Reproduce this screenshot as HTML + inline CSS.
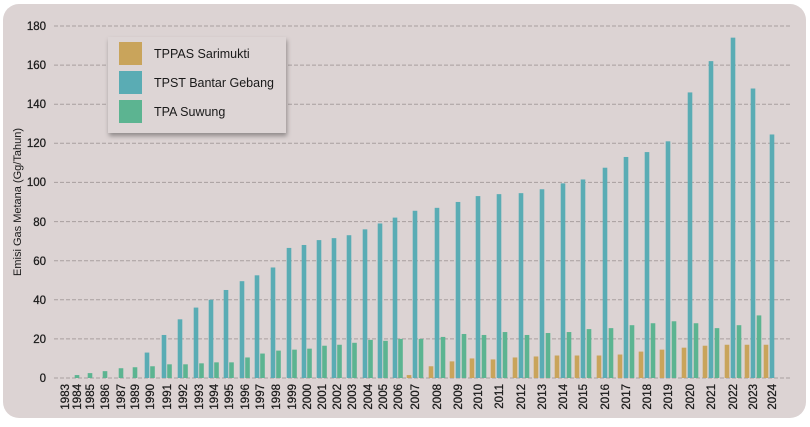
<!DOCTYPE html>
<html><head><meta charset="utf-8"><style>
body{margin:0;background:#fff;width:810px;height:422px;overflow:hidden;font-family:"Liberation Sans",sans-serif}
</style></head><body>
<svg id="s" width="810" height="422" xmlns="http://www.w3.org/2000/svg" font-family="Liberation Sans, sans-serif">
<rect x="3" y="4" width="803" height="414" rx="16" fill="#dcd3d3"/>
<g stroke="#a89f9f" stroke-dasharray="4,2" stroke-width="1">
<line x1="54" x2="792" y1="26" y2="26"/><line x1="54" x2="792" y1="65.1" y2="65.1"/><line x1="54" x2="792" y1="104.2" y2="104.2"/><line x1="54" x2="792" y1="143.3" y2="143.3"/><line x1="54" x2="792" y1="182.4" y2="182.4"/><line x1="54" x2="792" y1="221.6" y2="221.6"/><line x1="54" x2="792" y1="260.7" y2="260.7"/><line x1="54" x2="792" y1="299.8" y2="299.8"/><line x1="54" x2="792" y1="338.9" y2="338.9"/><line x1="54" x2="792" y1="378" y2="378"/>
</g>
<g font-size="11.5" fill="#1a1a1a" text-anchor="end" stroke="#1a1a1a" stroke-width="0.25">
<text x="46" y="30">180</text><text x="46" y="69">160</text><text x="46" y="108">140</text><text x="46" y="147">120</text><text x="46" y="186">100</text><text x="46" y="226">80</text><text x="46" y="265">60</text><text x="46" y="304">40</text><text x="46" y="343">20</text><text x="46" y="382">0</text>
</g>
<text transform="translate(21,202) rotate(-90)" font-size="11" text-anchor="middle" fill="#1a1a1a">Emisi Gas Metana (Gg/Tahun)</text>
<g id="bars"></g>
<g font-size="11.5" fill="#1a1a1a" text-anchor="end" id="lbl" stroke="#1a1a1a" stroke-width="0.25">
<text transform="translate(69,384) rotate(-90)">1983</text>
<text transform="translate(81,384) rotate(-90)">1984</text>
<text transform="translate(94,384) rotate(-90)">1985</text>
<text transform="translate(109,384) rotate(-90)">1986</text>
<text transform="translate(125,384) rotate(-90)">1987</text>
<text transform="translate(139,384) rotate(-90)">1989</text>
<text transform="translate(154,384) rotate(-90)">1990</text>
<text transform="translate(171,384) rotate(-90)">1991</text>
<text transform="translate(187,384) rotate(-90)">1992</text>
<text transform="translate(203,384) rotate(-90)">1993</text>
<text transform="translate(218,384) rotate(-90)">1994</text>
<text transform="translate(233,384) rotate(-90)">1995</text>
<text transform="translate(249,384) rotate(-90)">1996</text>
<text transform="translate(264,384) rotate(-90)">1997</text>
<text transform="translate(280,384) rotate(-90)">1998</text>
<text transform="translate(296,384) rotate(-90)">1999</text>
<text transform="translate(311,384) rotate(-90)">2000</text>
<text transform="translate(326,384) rotate(-90)">2001</text>
<text transform="translate(341,384) rotate(-90)">2002</text>
<text transform="translate(356,384) rotate(-90)">2003</text>
<text transform="translate(372,384) rotate(-90)">2004</text>
<text transform="translate(387,384) rotate(-90)">2005</text>
<text transform="translate(402,384) rotate(-90)">2006</text>
<text transform="translate(419,384) rotate(-90)">2007</text>
<text transform="translate(441,384) rotate(-90)">2008</text>
<text transform="translate(462,384) rotate(-90)">2009</text>
<text transform="translate(482,384) rotate(-90)">2010</text>
<text transform="translate(503,384) rotate(-90)">2011</text>
<text transform="translate(525,384) rotate(-90)">2012</text>
<text transform="translate(546,384) rotate(-90)">2013</text>
<text transform="translate(567,384) rotate(-90)">2014</text>
<text transform="translate(587,384) rotate(-90)">2015</text>
<text transform="translate(609,384) rotate(-90)">2016</text>
<text transform="translate(630,384) rotate(-90)">2017</text>
<text transform="translate(651,384) rotate(-90)">2018</text>
<text transform="translate(672,384) rotate(-90)">2019</text>
<text transform="translate(694,384) rotate(-90)">2020</text>
<text transform="translate(715,384) rotate(-90)">2021</text>
<text transform="translate(737,384) rotate(-90)">2022</text>
<text transform="translate(757,384) rotate(-90)">2023</text>
<text transform="translate(776,384) rotate(-90)">2024</text>
</g>
<defs><filter id="sh" x="-10%" y="-10%" width="130%" height="140%"><feDropShadow dx="1" dy="3" stdDeviation="2.5" flood-color="#000" flood-opacity="0.35"/></filter></defs>
<rect x="108" y="37" width="178" height="96" fill="#ddd5d5" filter="url(#sh)"/>
<rect x="119" y="42" width="23" height="23" fill="#c9a45b"/>
<rect x="119" y="71" width="23" height="23" fill="#5aacb4"/>
<rect x="119" y="100" width="23" height="23" fill="#5cb491"/>
<g font-size="12.5" fill="#1a1a1a"><text x="154" y="58">TPPAS Sarimukti</text><text x="154" y="87">TPST Bantar Gebang</text><text x="154" y="116">TPA Suwung</text></g>
</svg>
<script>
var L=[65,77,90,105,121,135,150,167,183,199,214,229,245,260,276,292,307,322,337,352,368,383,398,415,437,458,478,499,521,542,563,583,605,626,647,668,690,711,733,753,772];
var B=[0,0,0,0,0,0,13,22,30,36,40,45,49.5,52.5,56.5,66.5,68,70.5,71.5,73,76,79,82,85.5,87,90,93,94,94.5,96.5,99.5,101.5,107.5,113,115.5,121,146,162,174,148,124.5];
var G=[0,1.5,2.5,3.5,5,5.5,6,7,7,7.5,8,8,10.5,12.5,14,14.5,15,16.5,17,18,19.5,19,20,20,21,22.5,22,23.5,22,23,23.5,25,25.5,27,28,29,28,25.5,27,32,0];
var Y=[0,0,0,0,0,0,0,0,0,0,0,0,0,0,0,0,0,0,0,0,0,0,0,1.5,6,8.5,10,9.5,10.5,11,11.5,11.5,11.5,12,13.5,14.5,15.5,16.5,17,17,17];
var s="",k=1.956,w=4.6;
function r(cx,v,c){if(v<=0)return;var h=v*k;s+='<rect x="'+(cx-w/2)+'" y="'+(378-h)+'" width="'+w+'" height="'+h+'" fill="'+c+'"/>';}
for(var i=0;i<L.length;i++){var x=L[i];
 if(i<6){r(x,G[i],"#5cb491");}
 else if(i<23){r(x-3,B[i],"#5aacb4");r(x+2.5,G[i],"#5cb491");}
 else{r(x-6,Y[i],"#c9a45b");r(x,B[i],"#5aacb4");r(x+6,G[i],"#5cb491");}}
document.getElementById("bars").innerHTML=s;
</script>
</body></html>
